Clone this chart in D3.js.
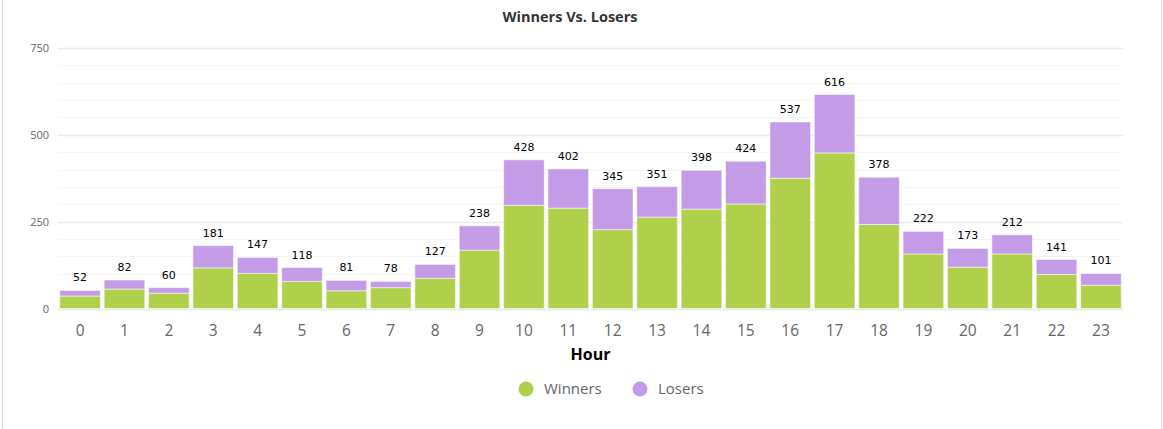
<!DOCTYPE html>
<html><head><meta charset="utf-8">
<script src="https://cdn.jsdelivr.net/npm/d3@7"></script>
<style>
html,body{margin:0;padding:0;background:#fff;}
svg{display:block;}
</style></head>
<body>
<svg id="chart" width="1163" height="429"></svg>
<script>
const hours = ["0","1","2","3","4","5","6","7","8","9","10","11","12","13","14","15","16","17","18","19","20","21","22","23"];
const winners = [36,56,44,117,101,78,51,60,87,168,297,289,227,263,286,301,375,448,242,157,119,157,98,67];
const totals = [52,82,60,181,147,118,81,78,127,238,428,402,345,351,398,424,537,616,378,222,173,212,141,101];
const losers = totals.map((t,i)=>t-winners[i]);
const yTicks = [0,250,500,750];
const seriesNames = ["Winners","Losers"];
const colors = ["#b0d04c","#c39be6"];

(function(){
const svg = d3.select("#chart");
const pLeft = 58, pRight = 1123, pTop = 48, pBottom = 308.5;

// borders
svg.append("line").attr("x1",2.5).attr("x2",2.5).attr("y1",0).attr("y2",429).attr("stroke","#dcdcdc").attr("stroke-width",1);
svg.append("line").attr("x1",1161.5).attr("x2",1161.5).attr("y1",0).attr("y2",429).attr("stroke","#dcdcdc").attr("stroke-width",1);

const x = d3.scaleBand().domain(hours).range([pLeft,pRight]).paddingInner(0.085).paddingOuter(0.04);
const y = d3.scaleLinear().domain([0,750]).range([pBottom,pTop]);

// minor grid
const minor = d3.range(0,751,50).filter(v=>v%250!==0);
svg.append("g").selectAll("line").data(minor).join("line")
  .attr("x1",pLeft).attr("x2",pRight)
  .attr("y1",d=>Math.round(y(d))+0.5).attr("y2",d=>Math.round(y(d))+0.5)
  .attr("stroke","#f6f6f6").attr("stroke-width",1);
// major grid
svg.append("g").selectAll("line").data(yTicks).join("line")
  .attr("x1",pLeft).attr("x2",pRight)
  .attr("y1",d=>Math.round(y(d))+0.5).attr("y2",d=>Math.round(y(d))+0.5)
  .attr("stroke","#e9e9e9").attr("stroke-width",1.5);

// y labels
const yAxis = d3.axisLeft(y).tickValues(yTicks).tickSize(0).tickPadding(0);
const yg = svg.append("g").attr("transform",`translate(49,0)`).call(yAxis);
yg.select(".domain").remove();
yg.selectAll("text").attr("font-family","'Open Sans', Arial, sans-serif").attr("font-size",11).attr("fill","#666").attr("dy","0.35em");

// stacked bars
const data = hours.map((h,i)=>({hour:h, Winners:winners[i], Losers:losers[i]}));
const stack = d3.stack().keys(seriesNames)(data);
svg.append("g").selectAll("g").data(stack).join("g")
  .attr("fill",(d,i)=>colors[i])
  .selectAll("rect").data(d=>d).join("rect")
  .attr("x",d=>x(d.data.hour))
  .attr("width",x.bandwidth())
  .attr("y",d=>y(d[1]))
  .attr("height",d=>y(d[0])-y(d[1]))
  .attr("stroke","rgba(255,255,255,0.55)").attr("stroke-width",1);

// totals labels
svg.append("g").selectAll("text").data(totals).join("text")
  .attr("x",(d,i)=>x(hours[i])+x.bandwidth()/2)
  .attr("y",d=>y(d)-9)
  .attr("text-anchor","middle")
  .attr("font-family","'DejaVu Sans', Verdana, sans-serif").attr("font-size",11)
  .attr("fill","#000").text(d=>d);

// x axis labels
const xAxis = d3.axisBottom(x).tickSize(0).tickPadding(0);
const xg = svg.append("g").attr("transform",`translate(0,${pBottom})`).call(xAxis);
xg.select(".domain").remove();
xg.selectAll("text").attr("font-family","'Open Sans', Arial, sans-serif").attr("font-size",15.5).attr("fill","#666").attr("dy",null).attr("y",27);

// axis title
svg.append("text").attr("x",(pLeft+pRight)/2).attr("y",360).attr("text-anchor","middle")
  .attr("font-family","'Open Sans', Arial, sans-serif").attr("font-weight","bold").attr("font-size",16).attr("fill","#000").text("Hour");

// chart title
svg.append("text").attr("x",570).attr("y",22).attr("text-anchor","middle")
  .attr("font-family","'Open Sans', Arial, sans-serif").attr("font-weight","bold").attr("font-size",14.5).attr("fill","#333").text("Winners Vs. Losers");

// legend
const legX = [526,640];
const lg = svg.append("g").selectAll("g").data(seriesNames).join("g")
  .attr("transform",(d,i)=>`translate(${legX[i]},389)`);
lg.append("circle").attr("r",7.5).attr("fill",(d,i)=>colors[i]);
lg.append("text").attr("x",18).attr("y",0).attr("dy","0.35em")
  .attr("font-family","'Open Sans', Arial, sans-serif").attr("font-size",15).attr("fill","#666").text(d=>d);
})();
</script>
</body></html>
